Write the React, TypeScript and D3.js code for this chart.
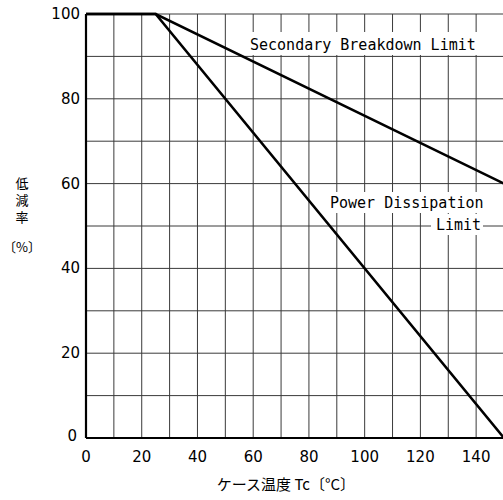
import React from "react";
import * as d3 from "d3";

// derating curves (x: case temperature °C, y: derating %)
const powerTemp = [0, 25, 150];
const powerRate = [100, 100, 0];
const sbTemp = [0, 25, 150];
const sbRate = [100, 100, 60];

const xTicks = [0, 20, 40, 60, 80, 100, 120, 140];
const yTicks = [0, 20, 40, 60, 80, 100];
const xGrid = d3.range(0, 151, 10);
const yGrid = d3.range(0, 101, 10);
const yTitle = "低減率";

const W = 503;
const H = 500;

const App: React.FC = () => {
  const x = d3.scaleLinear().domain([0, 150]).range([86, 504]);
  const y = d3.scaleLinear().domain([0, 100]).range([438, 14]);

  const line = d3
    .line<[number, number]>()
    .x((d) => x(d[0]))
    .y((d) => y(d[1]));

  const powerPts = powerTemp.map((t, i) => [t, powerRate[i]] as [number, number]);
  const sbPts = sbTemp.map((t, i) => [t, sbRate[i]] as [number, number]);

  const mono = "'DejaVu Sans Mono', monospace";
  const sans = "'DejaVu Sans', sans-serif";
  const cjk = "'Noto Sans CJK JP', sans-serif";

  return (
    <svg
      width={W}
      height={H}
      style={{ position: "absolute", left: 0, top: 0, background: "#fff" }}
    >
      {/* grid */}
      <g stroke="#3a3a3a" strokeWidth={1}>
        {xGrid.map((v) => (
          <line key={"gx" + v} x1={x(v)} x2={x(v)} y1={y(0)} y2={y(100)} />
        ))}
        {yGrid.map((v) => (
          <line key={"gy" + v} x1={x(0)} x2={x(150)} y1={y(v)} y2={y(v)} />
        ))}
      </g>
      {/* axes */}
      <line x1={x(0)} x2={x(0)} y1={y(0)} y2={y(100)} stroke="#000" strokeWidth={2.2} />
      <line x1={x(0)} x2={x(150)} y1={y(0)} y2={y(0)} stroke="#000" strokeWidth={2} />

      {/* label knock-outs */}
      <rect x={247} y={32} width={231} height={23} fill="#fff" />
      <rect x={327} y={192} width={158} height={21} fill="#fff" />
      <rect x={431} y={214} width={52} height={21} fill="#fff" />

      {/* curves */}
      <path d={line(sbPts) || ""} fill="none" stroke="#000" strokeWidth={2.6} />
      <path d={line(powerPts) || ""} fill="none" stroke="#000" strokeWidth={2.6} />

      {/* curve labels */}
      <g fontFamily={mono} fontSize={15} fill="#000" fontWeight={500}>
        <text x={250} y={50}>Secondary Breakdown Limit</text>
        <text x={330} y={208}>Power Dissipation</text>
        <text x={436} y={230}>Limit</text>
      </g>

      {/* tick labels */}
      <g fontFamily={sans} fontSize={15} fill="#000">
        {yTicks.map((v) =>
          v === 0 ? (
            <text key={"yt" + v} x={77} y={y(v) + 3} textAnchor="end">
              0
            </text>
          ) : (
            <text key={"yt" + v} x={80} y={y(v) + 5} textAnchor="end">
              {v}
            </text>
          )
        )}
        {xTicks.map((v) => (
          <text key={"xt" + v} x={x(v)} y={462} textAnchor="middle">
            {v}
          </text>
        ))}
      </g>

      {/* axis titles */}
      <text
        x={22}
        y={177}
        fontFamily={cjk}
        fontSize={13}
        fill="#000"
        letterSpacing={4}
        style={{ writingMode: "vertical-rl" }}
      >
        {yTitle}
      </text>
      <text x={22} y={252} fontFamily={cjk} fontSize={13} fill="#000" textAnchor="middle">
        〔%〕
      </text>
      <text x={286} y={490} fontFamily={cjk} fontSize={15} textAnchor="middle">
        ケース温度 Tc〔°C〕
      </text>
    </svg>
  );
};

export default App;
